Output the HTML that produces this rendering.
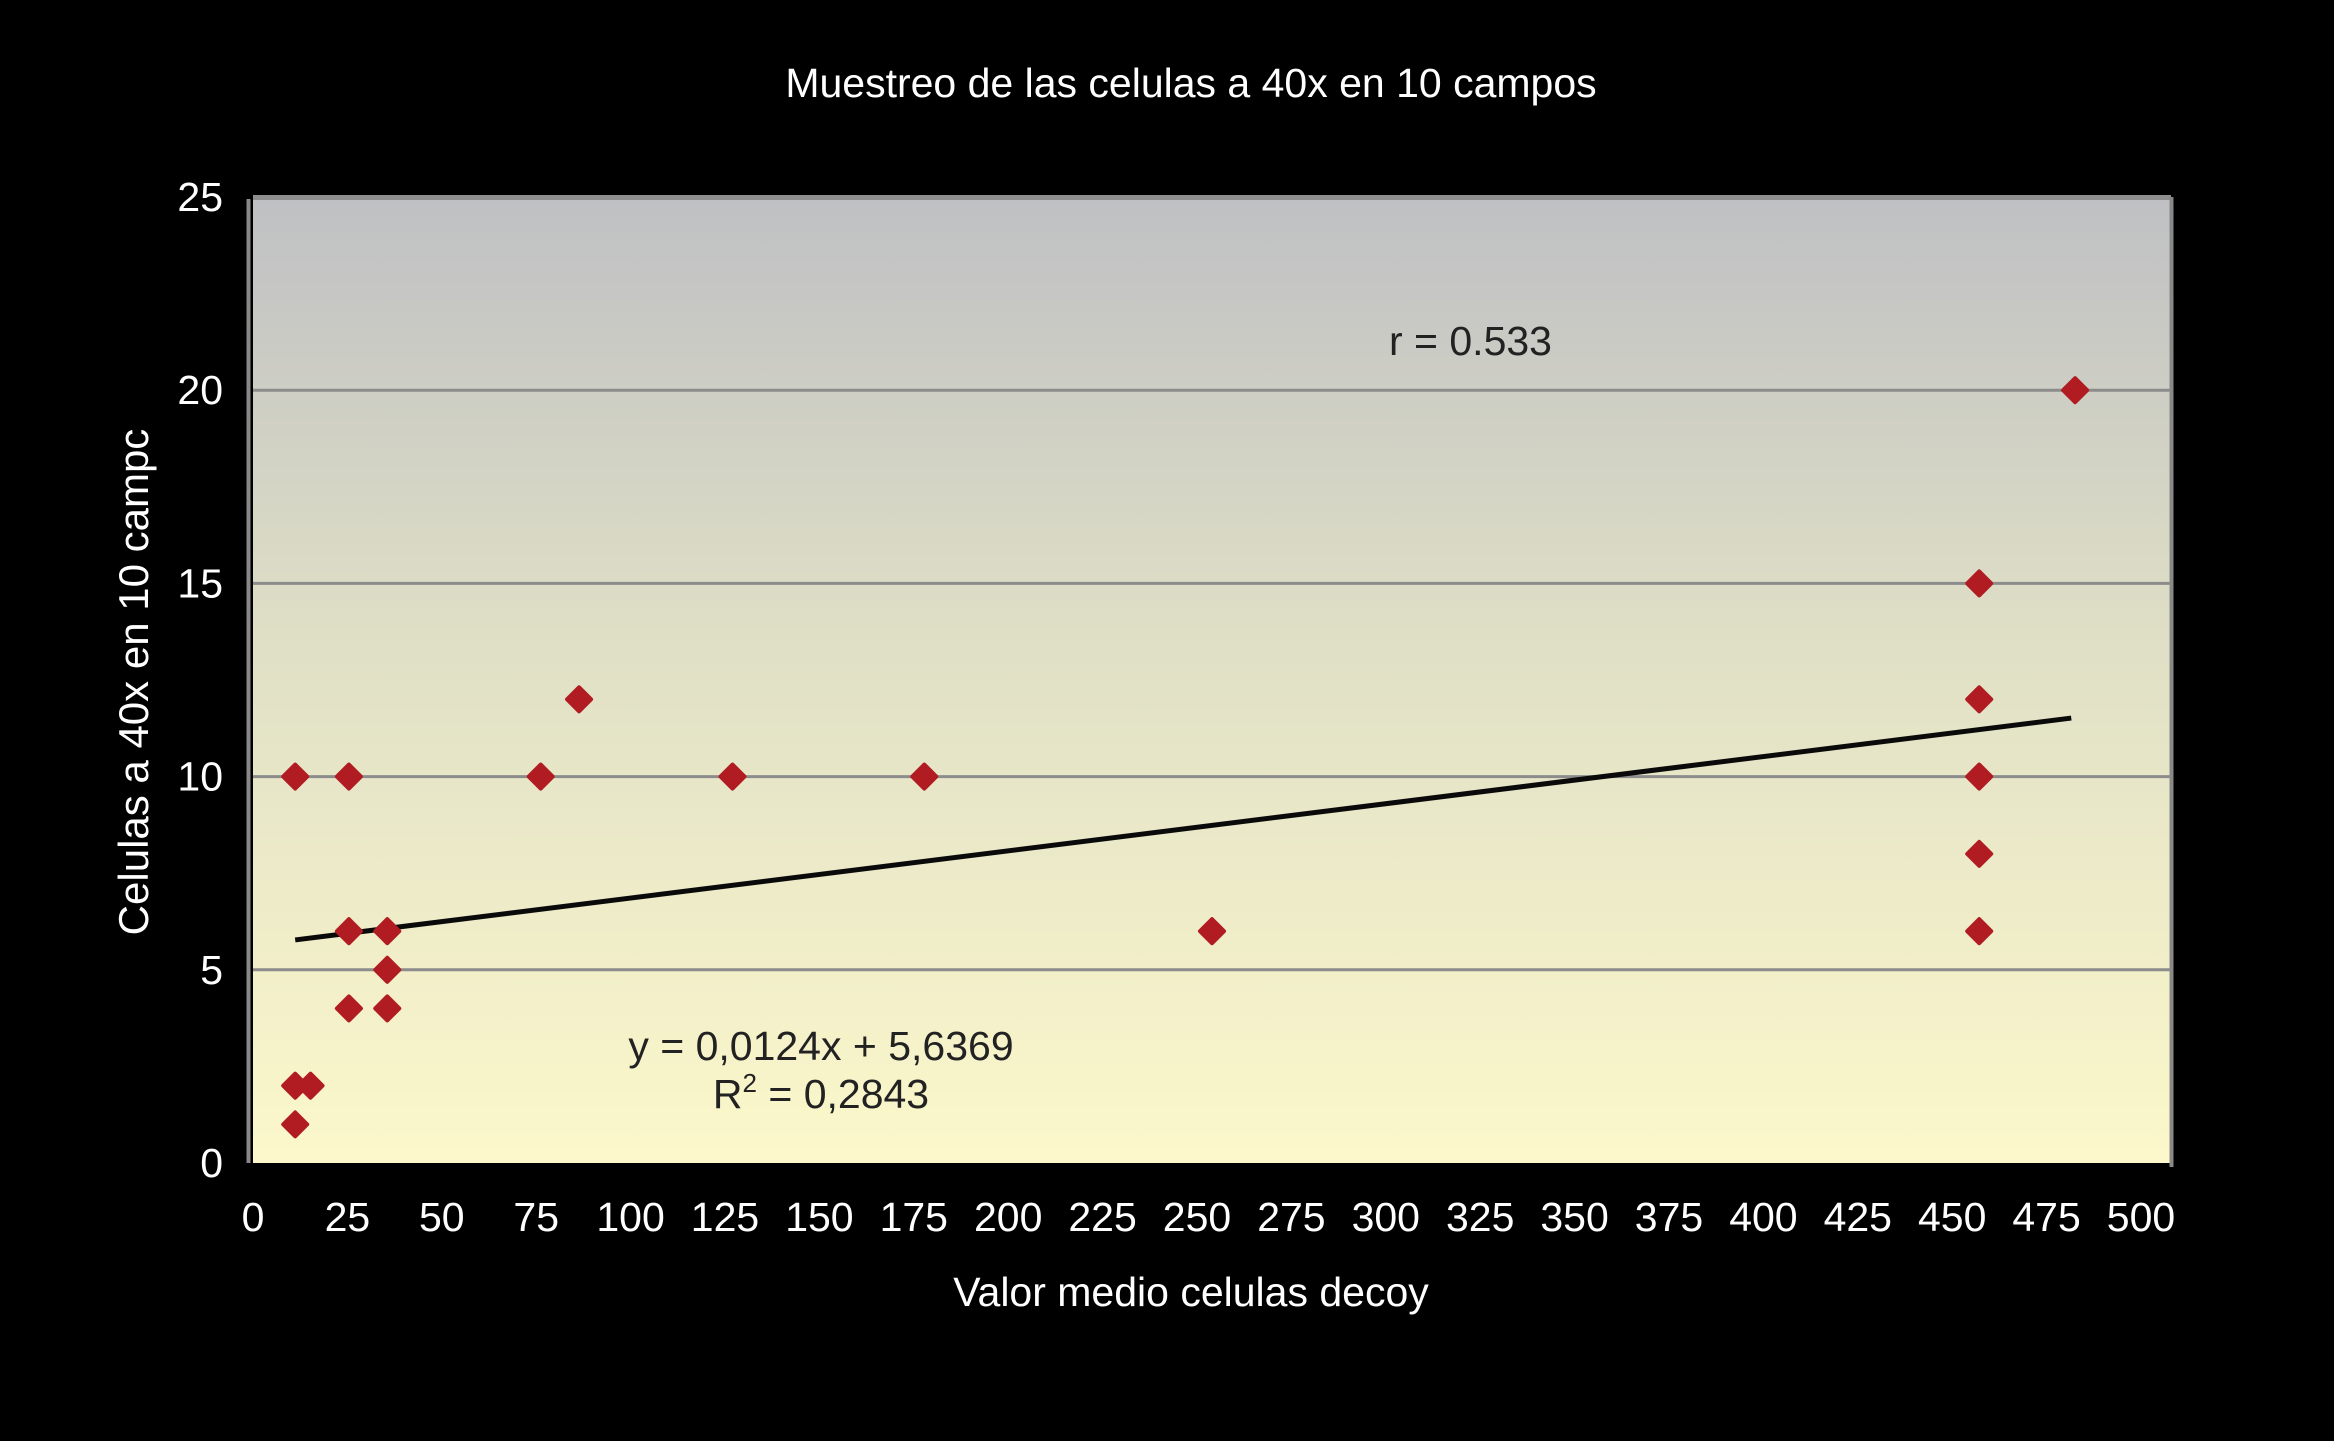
<!DOCTYPE html>
<html><head><meta charset="utf-8"><style>
html,body{margin:0;padding:0;background:#000;}
svg{display:block;}
text{font-family:"Liberation Sans",Arial,sans-serif;}
</style></head><body>
<svg id="chart" width="2334" height="1441" viewBox="0 0 2334 1441" xmlns="http://www.w3.org/2000/svg">
<defs>
<linearGradient id="bg" x1="0" y1="0" x2="0" y2="1">
<stop offset="0" stop-color="#bfc0c3"/>
<stop offset="0.45" stop-color="#dfdfc6"/>
<stop offset="1" stop-color="#fcf8cb"/>
</linearGradient>
</defs>
<rect width="2334" height="1441" fill="#000"/>
<text x="1191" y="97" font-size="41" fill="#fff" text-anchor="middle">Muestreo de las celulas a 40x en 10 campos</text>
<rect x="253" y="197" width="1918" height="966" fill="url(#bg)"/>
<line x1="248.5" y1="199" x2="248.5" y2="1163" stroke="#888" stroke-width="4"/>
<line x1="253" y1="197.5" x2="2171" y2="197.5" stroke="#8e8e8e" stroke-width="5"/>
<line x1="2171.5" y1="197" x2="2171.5" y2="1167" stroke="#888" stroke-width="4"/>
<g id="grid"></g>
<g id="ticks"></g>
<g id="trend"></g>
<g id="points"></g>
<text x="1389" y="355" font-size="41" fill="#222">r = 0.533</text>
<text x="821" y="1060" font-size="41" fill="#222" text-anchor="middle">y = 0,0124x + 5,6369</text>
<text x="821" y="1108" font-size="41" fill="#222" text-anchor="middle">R<tspan dy="-16" font-size="26">2</tspan><tspan dy="16"> = 0,2843</tspan></text>
<text x="1191" y="1306" font-size="41" fill="#fff" text-anchor="middle">Valor medio celulas decoy</text>
<text x="0" y="0" font-size="42" fill="#fff" text-anchor="middle" transform="translate(148,682) rotate(-90)">Celulas a 40x en 10 campc</text>
</svg>
<script>
const xVals = [11, 25, 11, 15, 11, 25, 25, 35, 35, 35, 75, 85, 125, 175, 250, 450, 450, 450, 450, 450, 475];
const yVals = [10, 10, 2, 2, 1, 6, 4, 6, 5, 4, 10, 12, 10, 10, 6, 15, 12, 10, 8, 6, 20];
const xTicks = [0,25,50,75,100,125,150,175,200,225,250,275,300,325,350,375,400,425,450,475,500];
const yTicks = [0,5,10,15,20,25];
const trendSlope = 0.0124;
const trendIntercept = 5.6369;
const trendRange = [11, 474];

const X0=253, X1=2171, Y0=1163, Y1=197;
const sx = v => X0 + (v/500)*(X1-X0);
const lx = v => 253 + (v/500)*(2141-253);
const sy = v => Y0 - (v/25)*(Y0-Y1);
const NS="http://www.w3.org/2000/svg";
const mk=(t,a)=>{const e=document.createElementNS(NS,t);for(const k in a)e.setAttribute(k,a[k]);return e;};

const grid=document.getElementById('grid');
yTicks.forEach(v=>{
  if(v>0&&v<25){
    const l=mk('line',{x1:X0,x2:X1,y1:sy(v),y2:sy(v),stroke:'#8c8c8c','stroke-width':3});
    
    
    grid.appendChild(l);
  }
});
const ticks=document.getElementById('ticks');
yTicks.forEach(v=>{
  const t=mk('text',{x:223,y:sy(v)+14,'font-size':41,fill:'#fff','text-anchor':'end'});
  t.textContent=v;
  
  
  ticks.appendChild(t);
});
xTicks.forEach(v=>{
  const t=mk('text',{x:lx(v),y:1231,'font-size':41,fill:'#fff','text-anchor':'middle'});
  t.textContent=v;
  
  
  ticks.appendChild(t);
});
const tr=document.getElementById('trend');
const tl=mk('line',{x1:sx(trendRange[0]),y1:sy(trendSlope*trendRange[0]+trendIntercept),x2:sx(trendRange[1]),y2:sy(trendSlope*trendRange[1]+trendIntercept),stroke:'#0a0a0a','stroke-width':5});


tr.appendChild(tl);
const pts=document.getElementById('points');
xVals.forEach((x,i)=>{
  const cx=sx(x), cy=sy(yVals[i]), r=12;
  const p=mk('path',{d:`M${cx} ${cy-r}L${cx+r} ${cy}L${cx} ${cy+r}L${cx-r} ${cy}Z`,fill:'#b01c22',stroke:'#b01c22','stroke-width':4,'stroke-linejoin':'round'});
  
  
  pts.appendChild(p);
});
</script>
</body></html>
